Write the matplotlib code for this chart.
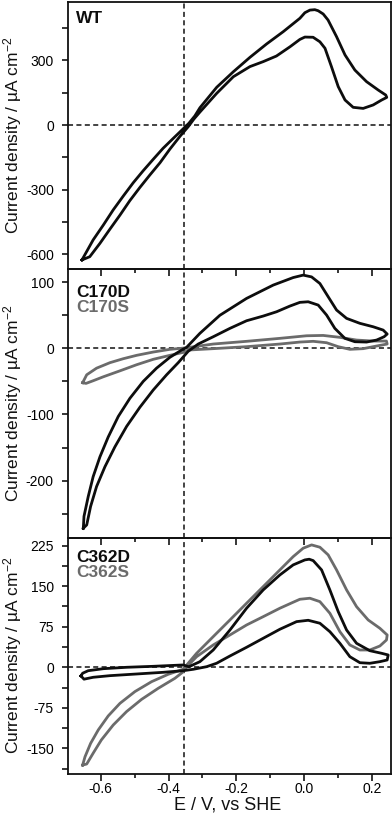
import matplotlib
matplotlib.use('Agg')
import matplotlib.pyplot as plt
from matplotlib.ticker import MultipleLocator, FixedLocator

plt.rcParams['font.family'] = ['Liberation Sans', 'DejaVu Sans']
plt.rcParams['mathtext.fontset'] = 'custom'
plt.rcParams['mathtext.rm'] = 'Liberation Sans'
plt.rcParams['mathtext.it'] = 'Liberation Sans:italic'
plt.rcParams['mathtext.bf'] = 'Liberation Sans:bold'

# ---------------- data (E in V vs SHE, j in uA cm-2) ----------------
wt_E = [-0.655, -0.622, -0.592, -0.563, -0.533, -0.504, -0.4745, -0.445, -0.416, -0.386, -0.357,
        -0.340, -0.3225, -0.3075, -0.258, -0.209, -0.160, -0.111, -0.062, -0.013, 0.0018, 0.0165,
        0.031, 0.041, 0.0557, 0.070, 0.095, 0.120, 0.149, 0.1835, 0.218, 0.240, 0.243, 0.228,
        0.203, 0.1735, 0.144, 0.120, 0.100, 0.080, 0.061, 0.046, 0.026, 0.0018, -0.013, -0.042,
        -0.082, -0.121, -0.160, -0.209, -0.258, -0.3075, -0.325, -0.342, -0.366, -0.396, -0.425,
        -0.455, -0.484, -0.514, -0.543, -0.573, -0.602, -0.632, -0.655]
wt_j = [-626, -533, -464, -394, -329, -268, -212, -159, -108, -62, -18,
        8, 42, 80, 175, 247, 314, 376, 433, 495, 521, 533,
        535, 530, 515, 487, 410, 325, 255, 201, 162, 139, 128, 116,
        93, 77, 82, 116, 178, 271, 356, 386, 407, 408, 397, 363,
        320, 294, 271, 224, 147, 60, 28, -8, -52, -112, -175,
        -232, -289, -351, -418, -484, -549, -611, -626]

c170d_E = [-0.651, -0.649, -0.6365, -0.622, -0.602, -0.5776, -0.548, -0.5137, -0.4745, -0.4353,
           -0.396, -0.3614, -0.3467, -0.3075, -0.2486, -0.170, -0.0916, -0.0327, -0.0032, 0.0215,
           0.046, 0.0704, 0.0951, 0.1246, 0.1638, 0.203, 0.2324, 0.2442, 0.235, 0.213, 0.1835,
           0.149, 0.1196, 0.090, 0.0657, 0.041, 0.0115, -0.013, -0.0424, -0.0816, -0.121, -0.170,
           -0.219, -0.2683, -0.3125, -0.342, -0.3714, -0.4056, -0.445, -0.4842, -0.5234, -0.558,
           -0.5873, -0.612, -0.6295, -0.641, -0.651]
c170d_j = [-272, -254, -224, -194, -164, -134, -103, -75.5, -50, -30,
           -13.6, -2.6, 1.5, 22.7, 50, 75.5, 95.6, 107, 110.7, 108,
           98, 78, 57.9, 45.3, 37.8, 32.6, 27.6, 21.6, 17.5, 12.5, 9.5,
           10, 15.1, 30.2, 50.3, 65.4, 70.4, 69.5, 63.9, 55.3, 48.8, 41.7,
           30.2, 17.5, 6.5, -4.5, -21.7, -40, -63, -89, -118, -149,
           -179, -209, -239, -267, -272]

c170s_E = [-0.653, -0.641, -0.612, -0.5726, -0.5334, -0.4941, -0.445, -0.396, -0.352, -0.2683,
           -0.170, -0.0719, 0.0068, 0.0557, 0.105, 0.154, 0.203, 0.242, 0.2442, 0.213, 0.1735,
           0.1343, 0.100, 0.0657, 0.0263, -0.013, -0.0719, -0.170, -0.2683, -0.342, -0.352,
           -0.396, -0.445, -0.494, -0.543, -0.592, -0.622, -0.643, -0.653]
c170s_j = [-52, -40, -30, -21.7, -15.7, -10.6, -5.6, -1.5, 0.5, 6.5,
           10.6, 15.1, 19, 19.5, 16.6, 12.5, 11, 11, 6.5, 3.5, -0.5,
           -1.5, 2.5, 8.5, 10.6, 9.5, 6.5, 2.5, -0.5, -2.6, -5.6,
           -10.6, -16.6, -24.8, -34, -43, -49, -53, -52]

c362d_E = [-0.658, -0.653, -0.6365, -0.592, -0.5234, -0.445, -0.357, -0.34, -0.3075, -0.2683,
           -0.219, -0.170, -0.121, -0.0719, -0.0327, 0.0017, 0.0145, 0.0263, 0.051, 0.0754, 0.100,
           0.1246, 0.154, 0.1932, 0.2277, 0.2472, 0.2442, 0.2227, 0.1932, 0.1638, 0.1343, 0.105,
           0.0754, 0.046, 0.0115, -0.0227, -0.0719, -0.121, -0.170, -0.219, -0.2585, -0.2878,
           -0.327, -0.3567, -0.4156, -0.494, -0.5726, -0.622, -0.649, -0.658]
c362d_j = [-16, -11, -6.3, -2.6, 0, 1.8, 4.3, 1.0, 10.4, 32,
           69, 109.3, 143.2, 170.9, 189.5, 198.7, 200, 197.4, 180.2, 143.2, 103,
           69, 44.4, 30.7, 25.9, 22.8, 13.5, 10.4, 7.4, 8.5, 19.6, 44.4,
           65.9, 81.5, 87, 84.5, 70.4, 53.7, 37, 20.9, 7.4, 1.1,
           -3.7, -6.3, -9.3, -12.4, -15.5, -18.5, -22, -16]

c362s_E = [-0.653, -0.646, -0.6295, -0.607, -0.5776, -0.543, -0.499, -0.4498, -0.401, -0.357,
           -0.3172, -0.2683, -0.219, -0.170, -0.121, -0.0719, -0.0327, -0.0032, 0.0215, 0.046,
           0.0704, 0.0951, 0.1246, 0.154, 0.1882, 0.2227, 0.2442, 0.2422, 0.2227, 0.1932, 0.1638,
           0.1343, 0.1049, 0.0754, 0.046, 0.0165, -0.013, -0.0327, -0.0719, -0.121, -0.170, -0.219,
           -0.2683, -0.3172, -0.34, -0.36, -0.3812, -0.4303, -0.4792, -0.5236, -0.563, -0.598,
           -0.622, -0.641, -0.653]
c362s_j = [-181, -165.6, -140.8, -116, -90, -66.7, -45, -26.6, -13, -3.7,
           25.9, 56.7, 87.6, 118.5, 149.3, 180.2, 204.8, 220.4, 226.5, 222.2,
           208, 180.2, 143.2, 112.2, 87.6, 72.2, 59.8, 50.6, 39.4, 32, 32,
           41.3, 65.9, 100, 121.5, 127.8, 125.9, 120.4, 109.3, 93.7, 78.3, 59.8,
           41.3, 19.6, 5, -10, -20.4, -38.9, -59.3, -82, -106.9, -134.6,
           -159, -179, -181]

x_ticks = [-0.6, -0.4, -0.2, 0.0, 0.2]
x_ticklabels = ['-0.6', '-0.4', '-0.2', '0.0', '0.2']
wt_yticks = [-600, -300, 0, 300]
c170_yticks = [-200, -100, 0, 100]
c362_yticks = [-150, -75, 0, 75, 150, 225]

panels = [
    dict(top=1.7, bottom=268.5, ylim=(-665.7, 572), yticks=wt_yticks, minor=150,
         series=[(wt_E, wt_j, '#0d0d0d')], labels=[('WT', '#0d0d0d', 22.7)]),
    dict(top=268.5, bottom=537.5, ylim=(-286, 120.7), yticks=c170_yticks, minor=50,
         series=[(c170s_E, c170s_j, '#6b6b6b'), (c170d_E, c170d_j, '#0d0d0d')],
         labels=[('C170D', '#0d0d0d', 296.7), ('C170S', '#6b6b6b', 311.7)]),
    dict(top=537.5, bottom=774, ylim=(-197.5, 240.2), yticks=c362_yticks, minor=37.5,
         series=[(c362s_E, c362s_j, '#6b6b6b'), (c362d_E, c362d_j, '#0d0d0d')],
         labels=[('C362D', '#0d0d0d', 561.7), ('C362S', '#6b6b6b', 576.7)]),
]

W, H = 392, 814
fig = plt.figure(figsize=(W / 100, H / 100), dpi=100)
fig.patch.set_facecolor('white')
L, R = 67.7, 390.5
dash = (0, (3.3, 2.2))

for i, p in enumerate(panels):
    ax = fig.add_axes([L / W, 1 - p['bottom'] / H, (R - L) / W, (p['bottom'] - p['top']) / H])
    ax.patch.set_visible(False)
    ax.set_xlim(-0.697, 0.254)
    ax.set_ylim(*p['ylim'])
    ax.axhline(0, color='#111111', lw=1.1, ls=dash, zorder=1)
    ax.axvline(-0.355, color='#111111', lw=1.1, ls=dash, zorder=1)
    for E, j, c in p['series']:
        ax.plot(E, j, color=c, lw=2.0, solid_joinstyle='round', zorder=3)
    for s in ax.spines.values():
        s.set_linewidth(1.3)
        s.set_color('#111111')
    ax.xaxis.set_major_locator(FixedLocator(x_ticks))
    ax.xaxis.set_minor_locator(MultipleLocator(0.1))
    ax.yaxis.set_major_locator(FixedLocator(p['yticks']))
    ax.yaxis.set_minor_locator(MultipleLocator(p['minor']))
    ax.set_yticklabels([str(v) for v in p['yticks']])
    ax.tick_params(axis='y', which='major', direction='out', length=4, width=1.1,
                   labelsize=10, pad=6, left=True, right=False)
    ax.tick_params(axis='y', which='minor', direction='out', length=4, width=1.1, right=False)
    ax.tick_params(axis='x', which='major', direction='out', length=5, width=1.1,
                   labelsize=10, pad=0.8, top=False)
    ax.tick_params(axis='x', which='minor', direction='out', length=3, width=1.1, top=False)
    if i < 2:
        ax.tick_params(axis='x', labelbottom=False)
    else:
        ax.set_xticklabels(x_ticklabels)
    for txt, col, base in p['labels']:
        fig.text((L + 8.3) / W, 1 - base / H, txt, color=col, fontsize=12.5,
                 fontweight='bold', ha='left', va='baseline')
    yc = (p['top'] + p['bottom']) / 2
    fig.text(12.5 / W, 1 - yc / H, 'Current density / µA cm$^{-2}$', rotation=90,
             ha='center', va='center', fontsize=12.5, color='#111111')

fig.text(227.5 / W, 1 - 810 / H, 'E / V, vs SHE', ha='center', va='baseline',
         fontsize=13, color='#111111')

fig.savefig('out.png', dpi=100, facecolor='white')
